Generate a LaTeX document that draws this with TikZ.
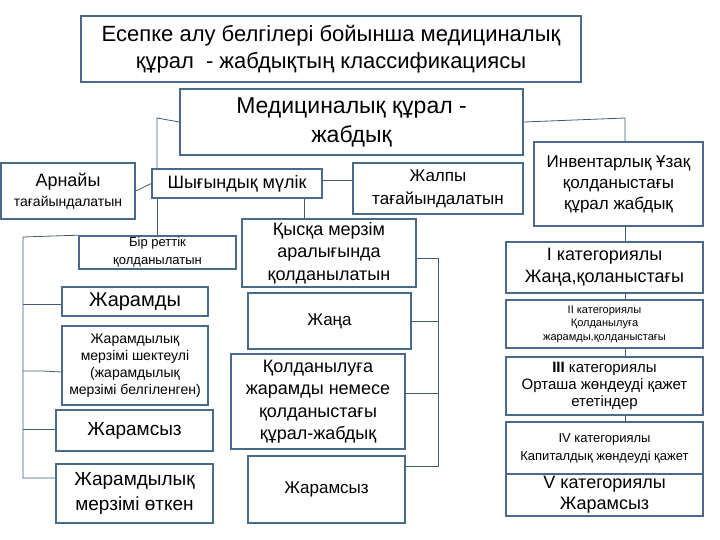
\documentclass[tikz,border=0pt]{standalone}
\usepackage{fontspec}
\setmainfont{Liberation Sans}
\definecolor{boxline}{HTML}{4A6A8C}
\definecolor{linkline}{HTML}{3E5C7A}
\newcommand{\fs}[2]{\fontsize{#1}{#2}\selectfont}
\tikzset{
  box/.style={draw=boxline,line width=1.6pt,fill=white,inner sep=0pt,align=center},
  link/.style={draw=linkline,line width=0.8pt}
}

\begin{document}
\begin{tikzpicture}[x=1pt,y=-1pt]
\useasboundingbox (0,0) rectangle (720,540);
\node[box,minimum width=500,minimum height=66,font=\fs{22}{27}] (title) at (331,49) {Есепке алу белгілері бойынша медициналық\\құрал \ - жабдықтың классификациясы};
\node[box,minimum width=343,minimum height=66,font=\fs{23}{29}] (med) at (351.5,122) {Медициналық құрал -\\жабдық};
\node[box,minimum width=134,minimum height=56,font=\fs{14}{20}] (arn) at (68,191) {{\fs{18}{20}Арнайы}\\тағайындалатын};
\node[box,minimum width=170,minimum height=29,font=\fs{18}{20}] (shyg) at (237,183.5) {Шығындық мүлік};
\node[box,minimum width=170,minimum height=51,font=\fs{17}{23}] (zhalpy) at (438,188.5) {Жалпы\\тағайындалатын};
\node[box,minimum width=169,minimum height=84,font=\fs{17}{21}] (inv) at (618.5,184) {Инвентарлық Ұзақ\\қолданыстағы\\құрал жабдық};
\node[box,minimum width=157,minimum height=33,font=\fs{13}{18}] (bir) at (157.5,252.5) {Бір реттік\\қолданылатын};
\node[box,minimum width=174,minimum height=68,font=\fs{18}{22.5}] (kyska) at (329,253) {Қысқа мерзім\\аралығында\\қолданылатын};
\node[box,minimum width=146,minimum height=29,font=\fs{20}{22}] (zharamdy) at (135,301.5) {Жарамды};
\node[box,minimum width=146,minimum height=79,font=\fs{14}{17}] (shekteuli) at (135,365.5) {Жарамдылық\\мерзімі шектеулі\\(жарамдылық\\мерзімі белгіленген)};
\node[box,minimum width=157,minimum height=41,font=\fs{19}{22}] (zharamsyzA) at (134.5,430.5) {Жарамсыз};
\node[box,minimum width=157,minimum height=59,font=\fs{19}{25}] (otken) at (134.5,493.5) {Жарамдылық\\мерзімі өткен};
\node[box,minimum width=163,minimum height=56,font=\fs{17}{22}] (zhana) at (329.5,321) {Жаңа};
\node[box,minimum width=174,minimum height=95,font=\fs{18}{22.5}] (koldan) at (318,401.5) {Қолданылуға\\жарамды немесе\\қолданыстағы\\құрал-жабдық};
\node[box,minimum width=157,minimum height=67,font=\fs{17}{22}] (zharamsyzB) at (326.5,489.5) {Жарамсыз};
\node[box,minimum width=197,minimum height=51,font=\fs{18}{22}] (catA) at (604.5,267.5) {I категориялы\\Жаңа,қоланыстағы};
\node[box,minimum width=197,minimum height=48,font=\fs{11}{13.5}] (catB) at (604.5,324) {II категориялы\\Қолданылуға\\жарамды,қолданыстағы};
\node[box,minimum width=197,minimum height=58,font=\fs{15}{17}] (catC) at (604.5,386) {\textbf{III} категориялы\\Орташа жөндеуді қажет\\ететіндер};
\node[box,minimum width=197,minimum height=52,font=\fs{13}{18}] (catD) at (604.5,448) {IV категориялы\\Капиталдық жөндеуді қажет};
\node[box,minimum width=197,minimum height=42,font=\fs{18}{21}] (catE) at (604.5,495) {V категориялы\\Жарамсыз};
\coordinate (lj) at (157,118);
\coordinate (rj) at (625,118);
\coordinate (lt) at (23,237);
\coordinate (mt) at (438,258);
\draw[link] (med.west) -- (lj) -- (lj |- shyg.north);
\draw[link] (lj |- shyg.south) -- (lj |- bir.north);
\draw[link] (arn.east) -- (shyg.west);
\draw[link] ([yshift=3.5pt]shyg.east) -- ([yshift=3.5pt]shyg.east -| zhalpy.west);
\draw[link] ([xshift=-18pt]shyg.south east) -- ([xshift=-18pt]shyg.south east |- kyska.north);
\draw[link] (bir.north west) -- (lt) -- (lt |- 0,478) -- ([yshift=15.5pt]otken.west);
\draw[link] (lt |- 0,304) -- ([yshift=-2.5pt]zharamdy.west);
\draw[link] (lt |- 0,371) -- (43,371) -- ([yshift=-6.5pt]shekteuli.west);
\draw[link] (lt |- 0,429) -- ([yshift=1.5pt]zharamsyzA.west);
\draw[link] ([yshift=-5pt]kyska.east) -- (mt) -- (mt |- 0,466) -- ([yshift=23.5pt]zharamsyzB.east);
\draw[link] (mt |- zhana.east) -- (zhana.east);
\draw[link] (mt |- 0,393) -- ([yshift=8.5pt]koldan.east);
\draw[link] (med.east) -- (rj) -- (rj |- inv.north);
\draw[link] (rj |- inv.south) -- (rj |- catA.north);
\draw[link] (rj |- catA.south) -- (rj |- catB.north);
\draw[link] (rj |- catB.south) -- (rj |- catC.north);
\draw[link] (rj |- catC.south) -- (rj |- catD.north);
\end{tikzpicture}
\end{document}
